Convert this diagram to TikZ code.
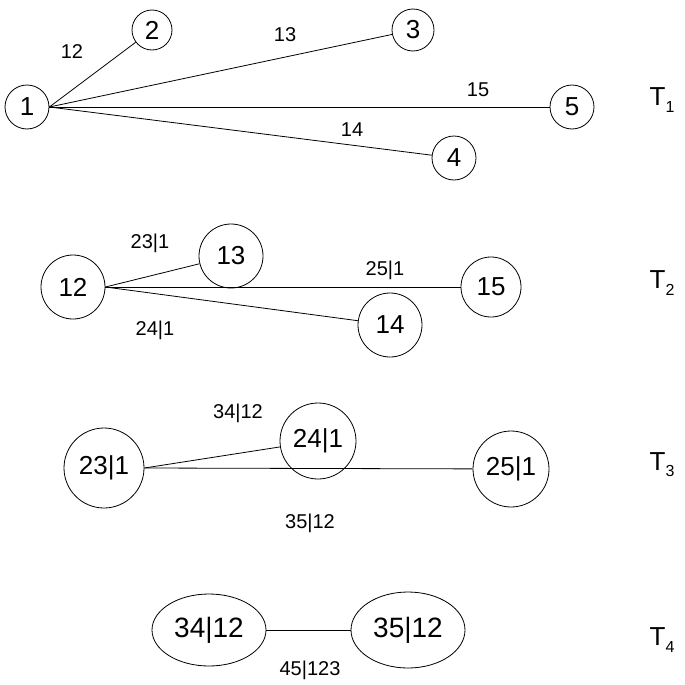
\documentclass[tikz,border=0pt]{standalone}
\usepackage{fontspec}
\setmainfont{Liberation Sans}
\usetikzlibrary{shapes.geometric}
\newcommand{\tsub}[1]{T\raisebox{-0.45ex}{\fontsize{8}{9}\selectfont #1}}
\begin{document}
\begin{tikzpicture}[x=0.5pt,y=-0.5pt,
  vc/.style={circle,draw,inner sep=0pt,font=\fontsize{13}{15}\selectfont},
  ve/.style={ellipse,draw,inner sep=0pt,font=\fontsize{14}{16}\selectfont},
  el/.style={font=\fontsize{10}{12}\selectfont},
  tl/.style={font=\fontsize{13}{15}\selectfont}]
\useasboundingbox (0,0) rectangle (685,685);
% T1
\node[vc,minimum size=22pt] (a1) at (27,107) {1};
\node[vc,minimum size=20pt] (a2) at (152,30) {2};
\node[vc,minimum size=21pt] (a3) at (413,30) {3};
\node[vc,minimum size=22pt] (a5) at (572,107) {5};
\node[vc,minimum size=22pt] (a4) at (454,158) {4};
\draw (a1.east) -- (a2);
\draw (a1.east) -- (a3);
\draw (a1.east) -- (a5);
\draw (a1.east) -- (a4);
\node[el] (l12) at (72,52) {12};
\node[el] (l13) at (285,35) {13};
\node[el] (l15) at (478,90) {15};
\node[el] (l14) at (352,130) {14};
\node[tl] (t1) at (662,100) {\tsub{1}};
% T2
\node[vc,minimum size=32pt] (b12) at (73,287) {12};
\node[vc,minimum size=32pt] (b13) at (231,256) {13};
\node[vc,minimum size=30pt] (b15) at (491,287) {15};
\node[vc,minimum size=32pt] (b14) at (390,325) {14};
\draw (b12.east) -- (b13);
\draw (b12.east) -- (b15);
\draw (b12.east) -- (b14);
\node[el] (m1) at (150,243) {23|1};
\node[el] (m2) at (385,270) {25|1};
\node[el] (m3) at (155,330) {24|1};
\node[tl] (t2) at (662,283) {\tsub{2}};
% T3
\node[vc,minimum size=40pt] (c1) at (104,468) {23|1};
\node[vc,minimum size=38pt] (c2) at (318,441) {24|1};
\node[vc,minimum size=38pt] (c3) at (511,469) {25|1};
\draw (c1.east) -- (c2);
\draw (c1.east) -- (c3);
\node[el] (n1) at (238,413) {34|12};
\node[el] (n2) at (310,523) {35|12};
\node[tl] (t3) at (662,465) {\tsub{3}};
% T4
\node[ve,minimum width=57pt,minimum height=36pt] (d1) at (209,630) {34|12};
\node[ve,minimum width=57pt,minimum height=38pt] (d2) at (408,630) {35|12};
\draw (d1) -- (d2);
\node[el] (o1) at (310,670) {45|123};
\node[tl] (t4) at (662,640) {\tsub{4}};
\end{tikzpicture}
\end{document}
